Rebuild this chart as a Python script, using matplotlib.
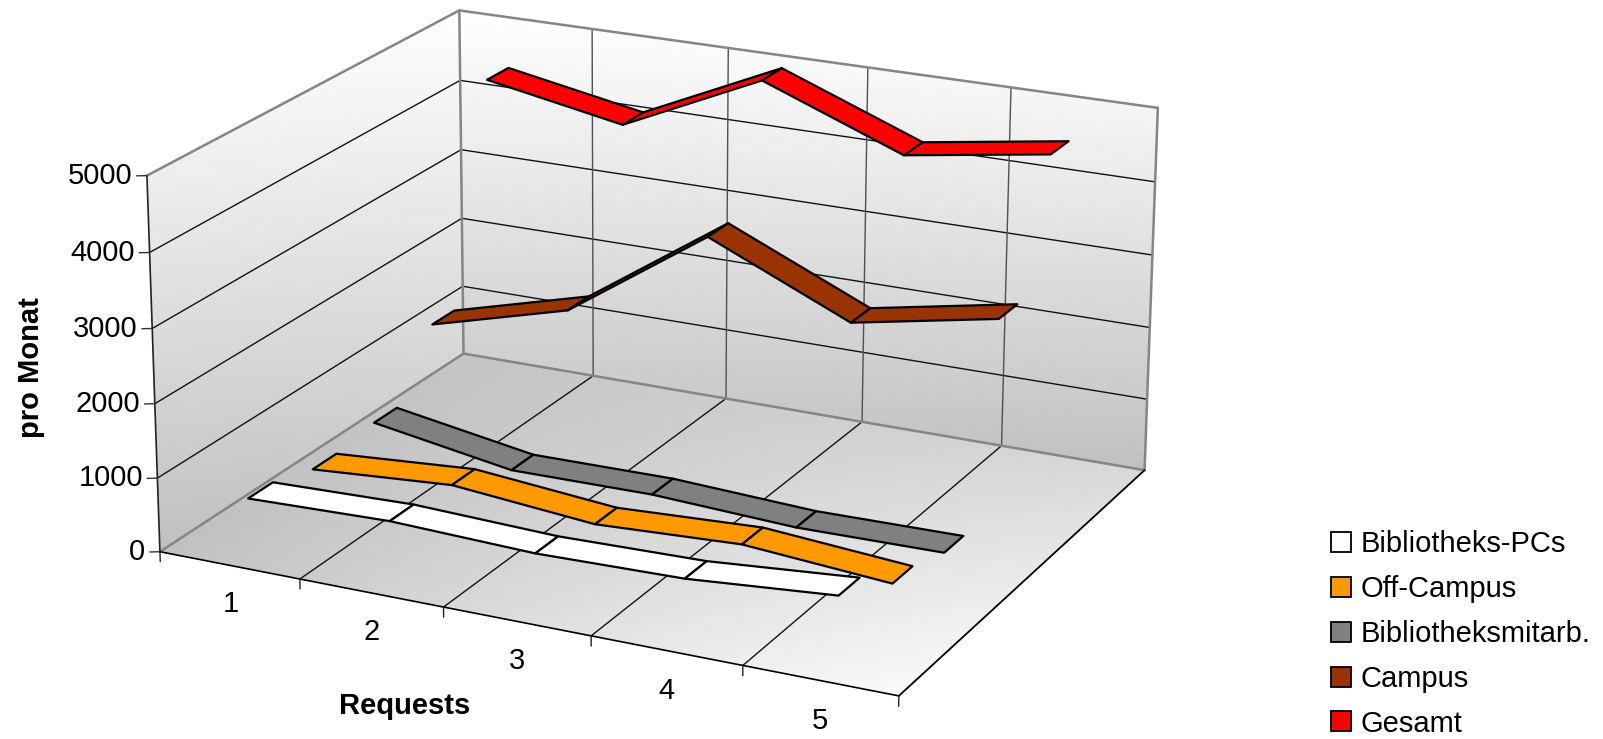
import numpy as np
import matplotlib
matplotlib.use('Agg')
import matplotlib.pyplot as plt
from matplotlib.patches import Patch
from mpl_toolkits.mplot3d import proj3d
from mpl_toolkits.mplot3d.art3d import Poly3DCollection

plt.rcParams['font.family'] = ['Liberation Sans', 'DejaVu Sans']

# Data
categories = ['1', '2', '3', '4', '5']
series_names = ['Bibliotheks-PCs', 'Off-Campus', 'Bibliotheksmitarb.', 'Campus', 'Gesamt']
bibliotheks_pcs = [735, 789, 724, 762, 917]
off_campus = [557, 693, 519, 612, 461]
bibliotheksmitarb = [643, 324, 339, 246, 268]
campus = [1492, 2011, 3337, 2481, 2853]
gesamt = [4463, 4112, 5002, 4263, 4563]
z_ticks = [0, 1000, 2000, 3000, 4000, 5000]

colors = ['#ffffff', '#ff9900', '#808080', '#993300', '#ff0000']
all_series = [bibliotheks_pcs, off_campus, bibliotheksmitarb, campus, gesamt]

W, H = 1603, 739
ZMAX = z_ticks[-1]
NX = len(categories)
NY = len(series_names)

fig = plt.figure(figsize=(W / 100, H / 100), dpi=100)
# camera and axes box fitted to the corners of the reference chart box
side = 1063.15
ax = fig.add_axes([117.0 / W, -134.93 / H, side / W, side / H], projection='3d')
ax.set_xlim(0, NX)
ax.set_ylim(0, NY)
ax.set_zlim(0, ZMAX)
ax.view_init(elev=19.7327, azim=-64.1196, roll=-0.1127)
ax.set_proj_type('persp', focal_length=0.8737)
ax.set_box_aspect((2.0349, 1.6318, 1.0))
ax.set_axis_off()
ax.computed_zorder = False
M = ax.get_proj()


# grey gradient on one wall, corners given as grey levels
def pane(X, Y, Z, g00, g01, g10, g11):
    n = X.shape[0]
    u, v = np.meshgrid(np.linspace(0, 1, n), np.linspace(0, 1, n), indexing='ij')
    g = (g00 * (1 - u) * (1 - v) + g01 * (1 - u) * v + g10 * u * (1 - v) + g11 * u * v) / 255
    cols = np.dstack([g, g, g, np.ones_like(g)])
    ax.plot_surface(X, Y, Z, facecolors=cols, rstride=1, cstride=1, shade=False,
                    linewidth=0, antialiased=False, zorder=0)


n = 80
a, b = np.meshgrid(np.linspace(0, 1, n), np.linspace(0, 1, n), indexing='ij')
pane(a * NX, b * NY, np.zeros_like(a), 192, 196, 250, 216)                  # floor
pane(np.zeros_like(a), a * NY, b * ZMAX, 192, 238, 215, 255)                # left wall
pane(a * NX, np.full_like(a, NY), b * ZMAX, 208, 255, 192, 245)             # back wall


def seg(p, q, color, lw, zorder=2):
    ax.plot([p[0], q[0]], [p[1], q[1]], [p[2], q[2]], color=color, lw=lw,
            zorder=zorder, solid_capstyle='round')


# text at a 3D position, drawn in the flat view coordinates
def label3d(x, y, z, s, ha):
    vx, vy, _ = proj3d.proj_transform(x, y, z, M)
    ax.text2D(vx, vy, s, transform=ax.transData, ha=ha, va='center', fontsize=21, zorder=200)


# grid
for z in z_ticks[1:-1]:
    seg((0, 0, z), (0, NY, z), '#111111', 1.0, 1)
    seg((0, NY, z), (NX, NY, z), '#111111', 1.0, 1)
for i in range(1, NX):
    seg((i, 0, 0), (i, NY, 0), '#111111', 1.0, 1)
    seg((i, NY, 0), (i, NY, ZMAX), '#505050', 1.0, 1)

# box edges
GREY = '#858585'
seg((0, 0, ZMAX), (0, NY, ZMAX), GREY, 1.8)
seg((0, NY, ZMAX), (NX, NY, ZMAX), GREY, 1.8)
seg((NX, NY, ZMAX), (NX, NY, 0), GREY, 1.8)
seg((0, NY, ZMAX), (0, NY, 0), GREY, 1.8)
seg((0, NY, 0), (NX, NY, 0), GREY, 1.8)
seg((0, 0, 0), (0, NY, 0), GREY, 1.8)
seg((0, 0, 0), (0, 0, ZMAX), '#222222', 1.2, 3)
seg((0, 0, 0), (NX, 0, 0), '#000000', 1.2, 3)
seg((NX, 0, 0), (NX, NY, 0), '#000000', 1.3, 3)

# ticks and tick labels
for z in z_ticks:
    seg((0, 0, z), (-0.054, -0.039, z), '#333333', 1.0, 3)
    label3d(-0.078, -0.056, z, str(z), 'right')
for i in range(NX + 1):
    seg((i, 0, 0), (i, 0, -135), '#222222', 1.0, 3)
for i, c in enumerate(categories):
    label3d(i + 0.5, 0, -530, c, 'center')

# ribbons, back to front
half = 0.19
for s in range(NY - 1, -1, -1):
    vals = all_series[s]
    y0, y1 = s + 0.49 - half, s + 0.49 + half
    for i in range(NX - 1):
        quad = [(i + 0.5, y0, vals[i]), (i + 1.5, y0, vals[i + 1]),
                (i + 1.5, y1, vals[i + 1]), (i + 0.5, y1, vals[i])]
        poly = Poly3DCollection([quad], facecolors=colors[s], edgecolors='black',
                                linewidths=1.6, zorder=10 + (NY - s) * 10 + i)
        ax.add_collection3d(poly, autolim=False)

# axis titles
fig.text(31 / W, 1 - 368 / H, 'pro Monat', rotation=90, ha='center', va='center',
         fontsize=21, fontweight='bold')
fig.text(405 / W, 1 - 706 / H, 'Requests', ha='center', va='center',
         fontsize=21, fontweight='bold')

handles = [Patch(facecolor=c, edgecolor='black', linewidth=1.3) for c in colors]
fig.legend(handles, series_names, loc='upper left', bbox_to_anchor=(1331 / W, 1 - 530 / H),
           frameon=False, fontsize=21, handlelength=0.68, handleheight=0.68,
           handletextpad=0.34, labelspacing=0.58, borderpad=0, borderaxespad=0)

fig.savefig('out.png', dpi=100)
